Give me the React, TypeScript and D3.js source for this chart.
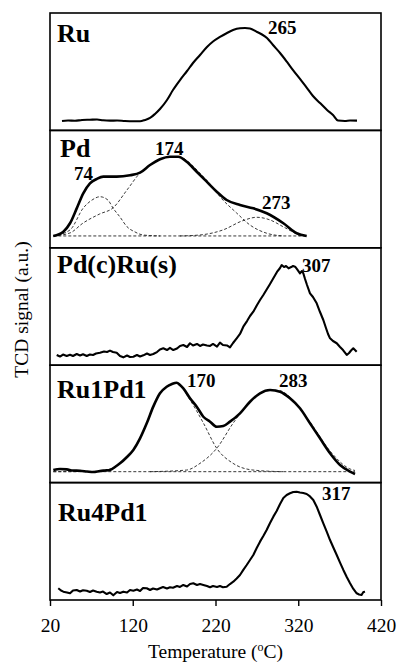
import React, { useEffect, useRef } from 'react';
import * as d3 from 'd3';

type Pt = [number, number]; // [temperature °C, TCD signal a.u.]

// Ru
const ruSignal: Pt[] = [
  [34.5, 8.0], [41.8, 8.4], [50.2, 8.2], [58.7, 8.9], [68.3, 9.1], [76.8, 9.3], [84.1, 8.6],
  [92.5, 8.3], [101, 8.4], [110.6, 8.0], [120.3, 7.8], [128.8, 7.8], [134.8, 8.9], [140.9, 10.6],
  [146.9, 14.0], [152.9, 18.2], [161.4, 25.9], [168.6, 34.4], [177.1, 42.9], [185.6, 50.6],
  [192.8, 57.4], [201.3, 64.2], [209.7, 71.0], [217, 75.7], [225.4, 79.6], [233.9, 83.0],
  [241.2, 85.5], [249.6, 87.0], [255.7, 87.2], [261.7, 86.8], [270.2, 83.8], [276.2, 81.7],
  [282.2, 78.7], [289.5, 72.7], [298, 65.9], [306.4, 58.3], [313.7, 51.4], [322.1, 43.8],
  [330.6, 36.1], [337.8, 29.3], [346.3, 23.3], [354.8, 17.4], [362, 13.1], [368, 8.4],
  [376.5, 8.0], [382.6, 8.4], [391, 8.3],
];

// Pd + deconvoluted peaks
const pdSignal: Pt[] = [
  [24, 10.1], [36.1, 13.7], [44.2, 20.9], [52.3, 33.6], [60.2, 46.4], [68.3, 54.9], [76.4, 58.6],
  [84.4, 60.6], [100.6, 60.6], [116.7, 61.8], [128.8, 64.0], [140.9, 70.5], [152.9, 75.4],
  [165, 77.6], [175, 77.6], [185.2, 73.3], [197.3, 64.8], [209.4, 56.3], [221.5, 47.8],
  [233.5, 40.7], [249.6, 36.5], [265.7, 33.6], [281.9, 29.4], [302, 20.9], [318.1, 12.4],
  [330.2, 10.1],
];
const pdPeak74: Pt[] = [
  [24, 10.1], [44.2, 15.2], [60.2, 33.9], [70.8, 40.7], [80.4, 43.5], [90, 40.7], [96.1, 33.9],
  [104.6, 26.2], [113, 18.0], [122.7, 13.5], [132.4, 10.9], [153, 10.1],
];
const pdPeak174: Pt[] = [
  [24, 10.1], [44, 12.6], [60, 21.1], [80, 28.8], [96, 33.9], [113, 49.2], [128.8, 63.7],
  [141, 70.5], [153, 75.4], [167, 77.6], [177, 77.3], [189, 72.2], [201, 63.7], [213.5, 54.3],
  [225.4, 43.5], [245.6, 29.6], [261.7, 19.4], [281.9, 12.4], [301.6, 10.1],
];
const pdPeak273: Pt[] = [
  [177, 10.1], [201, 10.9], [229, 15.2], [253, 23.1], [269.8, 26.0], [286, 23.7], [301.6, 18.0],
  [322, 10.1],
];
const pdBase: Pt[] = [[24, 10.1], [330.2, 10.1]];

// Pd(c)Ru(s)
const pdcRusSignal: Pt[] = [
  [28.1, 8.7], [32.1, 7.4], [35.7, 9.1], [40.2, 7.8], [44.2, 8.9], [47.8, 7.8], [52.3, 9.5],
  [56.3, 8.3], [59.9, 9.3], [64.4, 7.8], [68.3, 9.1], [72, 8.7], [75.6, 10.0], [80.4, 10.6],
  [85.3, 11.7], [88.9, 11.2], [92.5, 12.4], [96.1, 11.2], [100.6, 10.6], [104.6, 7.8],
  [108.6, 6.7], [113.1, 8.3], [116.7, 7.0], [120.7, 7.2], [125.1, 8.7], [128.8, 7.4],
  [132.8, 8.4], [137.2, 10.0], [140.9, 8.7], [144.8, 9.5], [149.3, 11.2], [152.9, 13.4],
  [156.9, 14.4], [161.4, 12.9], [165, 14.7], [169, 12.9], [173.5, 14.2], [177.1, 16.4],
  [181.1, 17.2], [185.6, 15.5], [189.2, 18.7], [192.8, 16.8], [197.6, 18.1], [201.3, 16.4],
  [204.9, 17.6], [209.7, 16.8], [213.4, 16.4], [217, 18.1], [221.8, 15.9], [225.4, 19.2],
  [229, 17.2], [233.9, 16.8], [237.5, 15.2], [241.2, 18.9], [245.6, 22.9], [249.6, 26.6],
  [253.6, 32.8], [258.1, 37.6], [261.7, 41.9], [265.7, 45.6], [270.2, 51.3], [273.8, 55.5],
  [277.8, 59.8], [282.2, 64.9], [285.9, 69.2], [289.9, 74.0], [294.3, 79.4], [298, 82.8],
  [300, 85.3], [302.8, 83.6], [305.2, 84.5], [308.3, 82.5], [311.4, 83.6], [313.7, 84.5],
  [316.2, 83.9], [318.5, 81.9], [322.1, 78.3], [324.5, 80.2], [326.1, 78.3], [328.2, 73.4],
  [330.6, 68.3], [334.2, 61.2], [337.8, 58.1], [342.3, 52.7], [346.3, 45.3], [350.3, 38.5],
  [353.5, 31.7], [356, 26.6], [358.4, 22.9], [362, 20.6], [366.5, 18.7], [370.5, 15.5],
  [374.1, 12.9], [378.6, 8.7], [381.4, 10.4], [383.8, 12.5], [386.5, 14.4], [390.6, 11.5],
];

// Ru1Pd1 + deconvoluted peaks
const ru1pd1Signal: Pt[] = [
  [24, 10.7], [32.1, 11.6], [40.2, 11.3], [47.8, 10.3], [56.3, 10.1], [64.7, 9.5], [72.3, 9.0],
  [80.4, 9.9], [86.5, 10.3], [92.5, 10.7], [98.5, 13.3], [104.6, 16.4], [112.7, 21.6],
  [120.7, 27.8], [128.8, 37.7], [136.9, 50.5], [144.8, 64.7], [152.9, 76.1], [161, 81.7],
  [167.4, 84.0], [173.1, 85.1], [177.1, 83.1], [181.1, 80.3], [189.2, 71.8], [197.3, 64.7],
  [205.3, 56.1], [213.4, 51.9], [221.5, 47.6], [229.4, 48.2], [237.5, 51.9], [249.6, 59.0],
  [261.7, 68.9], [273.8, 76.1], [285.9, 78.9], [298, 77.4], [310, 71.8], [322.1, 63.3],
  [334.2, 50.5], [346.3, 37.7], [358.4, 25.0], [370.5, 15.0], [382.6, 9.3], [388.6, 7.3],
];
const ru1pd1Peak170: Pt[] = [
  [24, 9.3], [68.3, 9.5], [80.4, 9.9], [92.5, 11.6], [104.6, 16.4], [120.7, 27.8],
  [136.9, 50.5], [152.9, 76.1], [161, 81.7], [173.1, 85.1], [189.2, 70.4], [205.3, 50.8],
  [221.5, 29.2], [241.2, 16.4], [265.3, 10.7], [301.6, 9.3],
];
const ru1pd1Peak283: Pt[] = [
  [140.9, 9.3], [185.2, 10.7], [201.3, 16.4], [221.5, 29.2], [241.2, 50.5], [261.7, 68.9],
  [285.9, 78.9], [298, 78.3], [310, 72.9], [334.2, 51.6], [358.4, 26.9], [382.6, 11.6],
  [388.6, 10.3],
];
const ru1pd1Base: Pt[] = [[24, 9.3], [388.6, 9.3]];

// Ru4Pd1
const ru4pd1Signal: Pt[] = [
  [30, 10.0], [33.3, 8.1], [36.1, 7.1], [40.5, 6.4], [44.2, 5.7], [47.8, 8.1], [52.3, 8.5],
  [56.3, 7.2], [59.9, 8.3], [64.4, 7.9], [68.3, 6.8], [72, 8.1], [76.4, 7.1], [80.4, 6.4],
  [84.1, 7.2], [88.5, 5.1], [92.5, 6.4], [96.5, 4.0], [101, 6.8], [104.6, 6.0], [108.6, 7.1],
  [113.1, 6.4], [116.7, 8.5], [120.7, 7.9], [125.1, 8.9], [128.8, 7.7], [132.4, 10.2],
  [136.9, 10.0], [140.9, 8.5], [144.5, 9.8], [149.3, 8.9], [152.9, 10.0], [156.6, 11.1],
  [161.4, 9.8], [165, 10.8], [168.6, 10.4], [173.5, 11.9], [177.1, 11.1], [181.1, 12.8],
  [185.6, 11.5], [189.2, 13.6], [193.2, 14.2], [197.6, 12.8], [201.3, 13.6], [205.3, 12.8],
  [209.7, 11.9], [213.4, 10.8], [217, 11.9], [221.8, 11.1], [225.4, 11.9], [229, 10.9],
  [233.5, 11.3], [237.5, 13.6], [241.5, 15.6], [245.6, 18.3], [249.6, 21.3], [253.6, 25.6],
  [257.7, 29.8], [261.7, 34.1], [265.7, 38.3], [269.8, 44.3], [273.8, 49.7], [277.8, 54.5],
  [281.8, 59.6], [285.9, 65.6], [289.9, 71.0], [293.9, 75.8], [298, 81.8], [302, 86.9],
  [306, 89.4], [310, 90.9], [314, 92.0], [318.1, 92.2], [322.1, 91.6], [326.1, 91.1],
  [330.2, 90.3], [334.2, 88.2], [338.2, 85.2], [342.3, 79.5], [346.3, 72.4], [350.3, 65.3],
  [354.4, 58.3], [358.4, 51.1], [362.4, 44.7], [366.5, 38.3], [370.5, 31.9], [374.5, 25.6],
  [378.6, 19.6], [382.6, 14.2], [386.6, 9.4], [390.6, 5.7], [393.5, 4.7], [396.5, 4.3],
  [398.7, 6.8], [400.7, 7.1],
];

const panelNames = ['Ru', 'Pd', 'Pd(c)Ru(s)', 'Ru1Pd1', 'Ru4Pd1'];
const panelNamePos: Pt[] = [[28.5, 75.3], [32.1, 77.3], [28.5, 78.5], [28.5, 72.1], [29.7, 67.3]];
const measured = [ruSignal, pdSignal, pdcRusSignal, ru1pd1Signal, ru4pd1Signal];
const noisy = [false, false, true, false, true];
const fits: Pt[][][] = [
  [],
  [pdBase, pdPeak74, pdPeak174, pdPeak273],
  [],
  [ru1pd1Base, ru1pd1Peak170, ru1pd1Peak283],
  [],
];
const peakLabels: { panel: number; text: string; at: Pt }[] = [
  { panel: 0, text: '265', at: [283.5, 82.1] },
  { panel: 1, text: '74', at: [49, 57.8] },
  { panel: 1, text: '174', at: [146.9, 79.0] },
  { panel: 1, text: '273', at: [276.2, 33.0] },
  { panel: 2, text: '307', at: [324.5, 79.4] },
  { panel: 3, text: '170', at: [185.6, 81.4] },
  { panel: 3, text: '283', at: [296.7, 81.4] },
  { panel: 4, text: '317', at: [348.7, 85.2] },
];
const xTicks = [20, 120, 220, 320, 420];

const SERIF = '"Liberation Serif", "Times New Roman", serif';

export default function App() {
  const svgRef = useRef<SVGSVGElement>(null);
  const width = 398;
  const height = 663;

  useEffect(() => {
    if (!svgRef.current) return;
    const svg = d3.select(svgRef.current);
    svg.selectAll('*').remove();

    const left = 50, right = 381, top = 13, bottom = 600;
    const panelH = (bottom - top) / panelNames.length;

    const x = d3.scaleLinear().domain([20, 420]).range([left, right]);

    panelNames.forEach((name, i) => {
      const pTop = top + i * panelH;
      const y = d3.scaleLinear().domain([0, 100]).range([pTop + panelH, pTop]);
      const g = svg.append('g');

      g.append('rect')
        .attr('x', left)
        .attr('y', pTop)
        .attr('width', right - left)
        .attr('height', panelH)
        .attr('fill', 'none')
        .attr('stroke', '#000')
        .attr('stroke-width', 1.6);

      const smooth = d3.line<Pt>().x(d => x(d[0])).y(d => y(d[1])).curve(d3.curveMonotoneX);
      const raw = d3.line<Pt>().x(d => x(d[0])).y(d => y(d[1]));

      // fitted components (dashed)
      fits[i].forEach(f => {
        g.append('path')
          .datum(f)
          .attr('fill', 'none')
          .attr('stroke', '#222')
          .attr('stroke-width', 0.9)
          .attr('stroke-dasharray', '3,2')
          .attr('d', smooth);
      });

      g.append('path')
        .datum(measured[i])
        .attr('fill', 'none')
        .attr('stroke', '#000')
        .attr('stroke-width', fits[i].length ? 2.6 : 2.1)
        .attr('stroke-linejoin', 'round')
        .attr('d', noisy[i] ? raw : smooth);

      g.append('text')
        .attr('x', x(panelNamePos[i][0]))
        .attr('y', y(panelNamePos[i][1]))
        .attr('font-family', SERIF)
        .attr('font-weight', 'bold')
        .attr('font-size', 26)
        .text(name);

      peakLabels.filter(l => l.panel === i).forEach(l => {
        g.append('text')
          .attr('x', x(l.at[0]))
          .attr('y', y(l.at[1]))
          .attr('font-family', SERIF)
          .attr('font-weight', 'bold')
          .attr('font-size', 19)
          .text(l.text);
      });
    });

    // temperature axis
    const axis = svg.append('g')
      .attr('transform', `translate(0,${bottom})`)
      .call(d3.axisBottom(x).tickValues(xTicks).tickSize(6).tickSizeOuter(0).tickFormat(d3.format('d')));
    axis.select('.domain').remove();
    axis.selectAll('line').attr('stroke', '#000').attr('stroke-width', 1.4);
    axis.selectAll('text')
      .attr('font-family', SERIF)
      .attr('font-size', 19.5)
      .attr('fill', '#000')
      .attr('dy', null)
      .attr('y', 31.5);

    const xt = svg.append('text')
      .attr('x', (left + right) / 2)
      .attr('y', 657.5)
      .attr('text-anchor', 'middle')
      .attr('font-family', SERIF)
      .attr('font-size', 19.5);
    xt.append('tspan').text('Temperature (');
    xt.append('tspan').attr('font-size', 12).attr('dy', -7).text('o');
    xt.append('tspan').attr('dy', 7).text('C)');

    svg.append('text')
      .attr('transform', `translate(27.5,${(top + bottom) / 2 + 3}) rotate(-90)`)
      .attr('text-anchor', 'middle')
      .attr('font-family', SERIF)
      .attr('font-size', 19.5)
      .text('TCD signal (a.u.)');
  }, []);

  return (
    <svg
      ref={svgRef}
      width={width}
      height={height}
      style={{ position: 'absolute', left: 0, top: 0, background: '#fff' }}
    />
  );
}
